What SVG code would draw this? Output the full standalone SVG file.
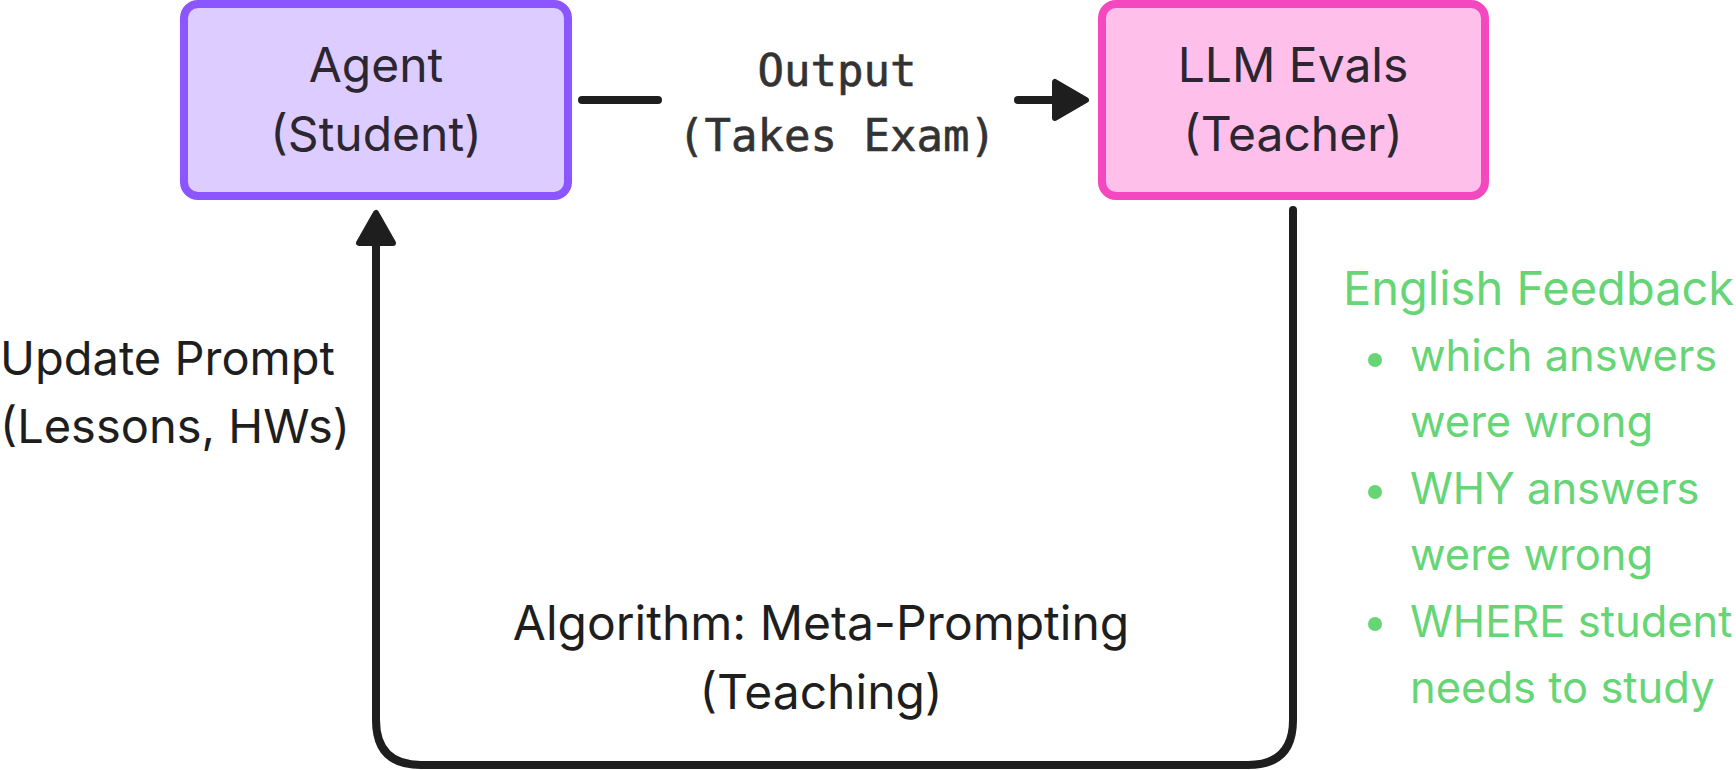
<svg xmlns="http://www.w3.org/2000/svg" width="1736" height="770" viewBox="0 0 1736 770">
<style>
.t{font-family:Inter,"Noto Sans",sans-serif;font-size:47px;fill:#1e1e1e}
.a{font-family:Inter,"Noto Sans",sans-serif;font-size:48px;fill:#1e1e1e;text-anchor:middle}
.nt{font-family:Inter,"Noto Sans",sans-serif;font-size:48px;fill:#2c2630;text-anchor:middle}
.m{font-family:"DejaVu Sans Mono","Liberation Mono",monospace;font-size:44px;fill:#333;text-anchor:middle;stroke:#333;stroke-width:0.6}
.gh{font-family:Inter,"Noto Sans",sans-serif;font-size:47px;fill:#66d575}
.g{font-family:Inter,"Noto Sans",sans-serif;font-size:43.5px;fill:#66d575}
.ln{fill:none;stroke:#1e1e1e;stroke-width:8;stroke-linecap:round;stroke-linejoin:round}
.ah{fill:#1e1e1e;stroke:#1e1e1e;stroke-width:6;stroke-linejoin:round}
</style>
<rect width="1736" height="770" fill="#fff"/>
<g id="connectors">
<path class="ln" d="M582 100 H658"/>
<path class="ln" d="M1018 100 H1058"/>
<polygon class="ah" points="1086,100 1055,82 1055,118"/>
<path class="ln" d="M1293 210 V720 Q1293 765 1248 765 H421 Q376 765 376 720 V240"/>
<polygon class="ah" points="376,213 359,243 393,243"/>
</g>
<g id="agent">
<rect x="184" y="4" width="384" height="192" rx="14" fill="#ddccff" stroke="#8b55ff" stroke-width="8"/>
<text class="nt" x="376" y="82">Agent</text>
<text class="nt" x="376" y="151">(Student)</text>
</g>
<g id="llm-evals">
<rect x="1102" y="4" width="383" height="192" rx="14" fill="#fec0ea" stroke="#f548c0" stroke-width="8"/>
<text class="nt" x="1293" y="82">LLM Evals</text>
<text class="nt" x="1293" y="151">(Teacher)</text>
</g>
<g id="labels">
<text class="m" x="837" y="86">Output</text>
<text class="m" x="837" y="151">(Takes Exam)</text>
<text class="t" x="0" y="375">Update Prompt</text>
<text class="t" x="0" y="443">(Lessons, HWs)</text>
<text class="a" x="821" y="640">Algorithm: Meta-Prompting</text>
<text class="a" x="821" y="709">(Teaching)</text>
</g>
<g id="feedback">
<text class="gh" x="1343" y="305">English Feedback</text>
<circle cx="1375" cy="360" r="7" fill="#66d575"/>
<circle cx="1375" cy="492" r="7" fill="#66d575"/>
<circle cx="1375" cy="624" r="7" fill="#66d575"/>
<text class="g" x="1410" y="371">which answers</text>
<text class="g" x="1410" y="437">were wrong</text>
<text class="g" x="1410" y="504">WHY answers</text>
<text class="g" x="1410" y="570">were wrong</text>
<text class="g" x="1410" y="637">WHERE student</text>
<text class="g" x="1410" y="703">needs to study</text>
</g>
</svg>
